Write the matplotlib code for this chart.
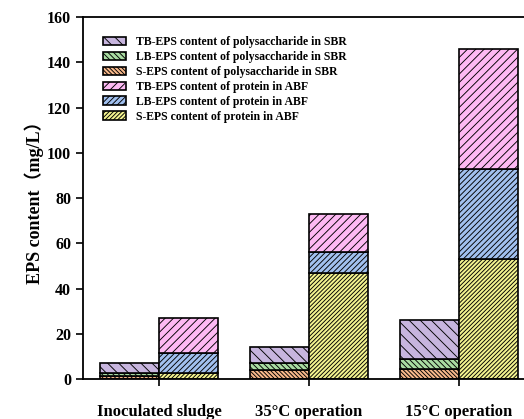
import numpy as np
import matplotlib
matplotlib.use("Agg")
import matplotlib.pyplot as plt

# data (mg/L)
groups = ["Inoculated sludge", "35\u00b0C operation", "15\u00b0C operation"]

sbr_s_poly = [1.3, 4.0, 4.3]
sbr_lb_poly = [1.4, 3.2, 4.4]
sbr_tb_poly = [4.5, 7.1, 17.3]

abf_s_prot = [2.8, 47.0, 53.0]
abf_lb_prot = [8.8, 9.0, 39.7]
abf_tb_prot = [15.4, 17.0, 53.0]

plt.rcParams["font.family"] = ["Liberation Serif", "Noto Sans CJK SC"]
plt.rcParams["font.weight"] = "bold"
plt.rcParams["hatch.linewidth"] = 0.65

fig = plt.figure(figsize=(5.24, 4.19), dpi=100)
ax = fig.add_axes([83 / 524, 40 / 419, 451 / 524, 362 / 419])

x = np.arange(len(groups))
w = 0.395
ek = dict(edgecolor="black", linewidth=1.2)

# SBR bars (polysaccharide), left of each tick
b0 = np.zeros(3)
ax.bar(x - w / 2, sbr_s_poly, w, bottom=b0, color="#f8b98b", hatch="\\" * 8,
       label="S-EPS content of polysaccharide in SBR", **ek)
b1 = b0 + sbr_s_poly
ax.bar(x - w / 2, sbr_lb_poly, w, bottom=b1, color="#a9dca2", hatch="\\" * 6,
       label="LB-EPS content of polysaccharide in SBR", **ek)
b2 = b1 + sbr_lb_poly
ax.bar(x - w / 2, sbr_tb_poly, w, bottom=b2, color="#c7b5de", hatch="\\" * 3,
       label="TB-EPS content of polysaccharide in SBR", **ek)

# ABF bars (protein), right of each tick
c0 = np.zeros(3)
ax.bar(x + w / 2, abf_s_prot, w, bottom=c0, color="#f3f38f", hatch="/" * 8,
       label="S-EPS content of protein in ABF", **ek)
c1 = c0 + abf_s_prot
ax.bar(x + w / 2, abf_lb_prot, w, bottom=c1, color="#a1c0ef", hatch="/" * 6,
       label="LB-EPS content of protein in ABF", **ek)
c2 = c1 + abf_lb_prot
ax.bar(x + w / 2, abf_tb_prot, w, bottom=c2, color="#fdb9f3", hatch="/" * 4,
       label="TB-EPS content of protein in ABF", **ek)

ax.set_xlim(-0.507, 2.5)
ax.set_ylim(0, 160)
ax.set_yticks(np.arange(0, 161, 20))
ax.set_xticks(x)
ax.set_xticklabels(groups, fontsize=12, fontweight="bold")
ax.tick_params(axis="y", labelsize=11.5, direction="out", length=5, width=1.2)
ax.tick_params(axis="x", direction="out", length=5, width=1.2, pad=13)
for lab in ax.get_yticklabels():
    lab.set_fontweight("bold")
for sp in ax.spines.values():
    sp.set_linewidth(1.3)

ax.set_ylabel("EPS content\uff08mg/L\uff09", fontsize=13, fontweight="bold", labelpad=2)

h, l = ax.get_legend_handles_labels()
order = [2, 1, 0, 5, 4, 3]
ax.legend([h[i] for i in order], [l[i] for i in order], loc="upper left",
          bbox_to_anchor=(0.025, 0.97), frameon=False,
          handlelength=2.0, handleheight=0.75, labelspacing=0.25,
          handletextpad=0.8, borderpad=0.2, prop={"weight": "bold", "size": 8.5})

fig.savefig("out.png", dpi=100, facecolor="white")
